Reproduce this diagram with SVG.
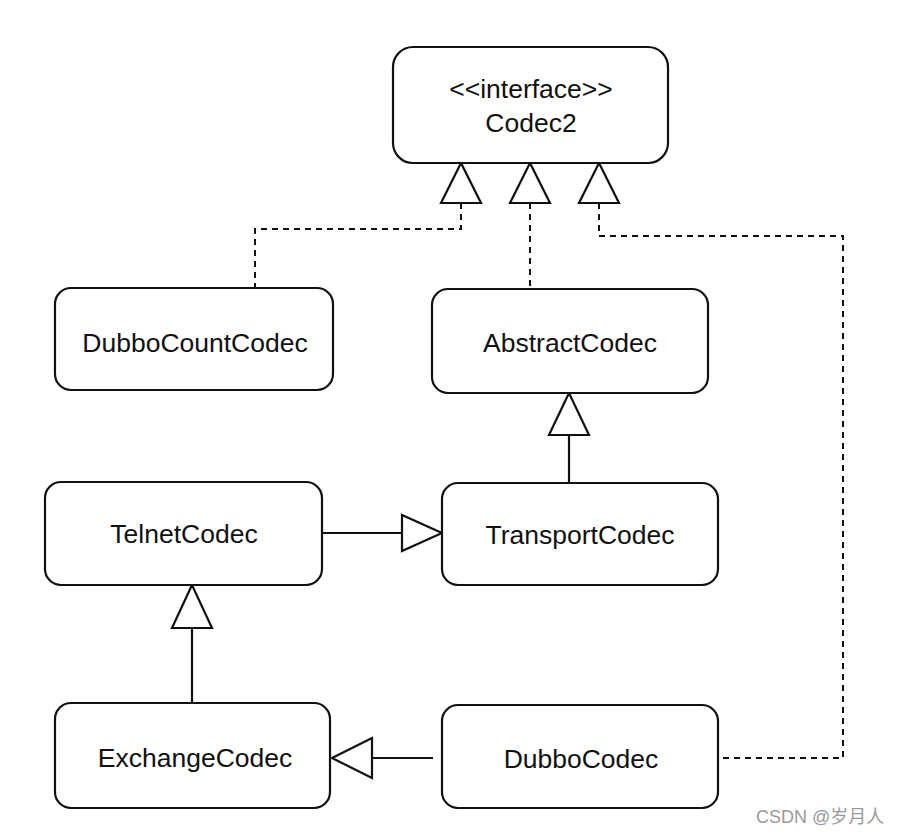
<svg xmlns="http://www.w3.org/2000/svg" width="900" height="836" viewBox="0 0 900 836">
<style>
.box{fill:#fff;stroke:#111;stroke-width:2.2}
.lbl{font-family:"Liberation Sans",Arial,sans-serif;font-size:26.5px;fill:#111;text-anchor:middle}
.solid{fill:none;stroke:#111;stroke-width:2.2}
.dash{fill:none;stroke:#111;stroke-width:2;stroke-dasharray:6 5}
.tri{fill:#fff;stroke:#111;stroke-width:2.2;stroke-linejoin:miter}
.wm{font-family:"Liberation Sans","Noto Sans CJK SC",sans-serif;font-size:18px;fill:#9a9a9a}
</style>
<rect width="900" height="836" fill="#fff"/>
<g id="connectors">
<path class="dash" d="M461 203 V229 H255 V288"/>
<path class="dash" d="M530 203 V289"/>
<path class="dash" d="M599 203 V236 H843 V758 H718"/>
<path class="solid" d="M569 435 V483"/>
<path class="solid" d="M322 533 H402"/>
<path class="solid" d="M192 628 V703"/>
<path class="solid" d="M372 758 H433"/>
<polygon class="tri" points="461,163 441,203 481,203"/>
<polygon class="tri" points="530,163 510,203 550,203"/>
<polygon class="tri" points="599,163 579,203 619,203"/>
<polygon class="tri" points="569,393 549,435 589,435"/>
<polygon class="tri" points="442,533 402,515 402,551"/>
<polygon class="tri" points="192,585 172,628 212,628"/>
<polygon class="tri" points="332,758 372,738 372,778"/>
</g>
<g id="codec2">
<rect class="box" x="393" y="47" width="275" height="116" rx="20"/>
<text class="lbl" x="531" y="98" font-size="27">&lt;&lt;interface&gt;&gt;</text>
<text class="lbl" x="531" y="132">Codec2</text>
</g>
<g id="dubboCountCodec">
<rect class="box" x="55" y="288" width="278" height="102" rx="16"/>
<text class="lbl" x="195" y="352">DubboCountCodec</text>
</g>
<g id="abstractCodec">
<rect class="box" x="432" y="289" width="276" height="104" rx="16"/>
<text class="lbl" x="570" y="352">AbstractCodec</text>
</g>
<g id="telnetCodec">
<rect class="box" x="45" y="482" width="277" height="103" rx="16"/>
<text class="lbl" x="184" y="543">TelnetCodec</text>
</g>
<g id="transportCodec">
<rect class="box" x="442" y="483" width="276" height="102" rx="16"/>
<text class="lbl" x="580" y="544">TransportCodec</text>
</g>
<g id="exchangeCodec">
<rect class="box" x="55" y="703" width="275" height="105" rx="16"/>
<text class="lbl" x="195" y="767">ExchangeCodec</text>
</g>
<g id="dubboCodec">
<rect class="box" x="442" y="705" width="276" height="103" rx="16"/>
<text class="lbl" x="581" y="768">DubboCodec</text>
</g>
<text class="wm" x="756" y="823">CSDN @岁月人</text>
</svg>
